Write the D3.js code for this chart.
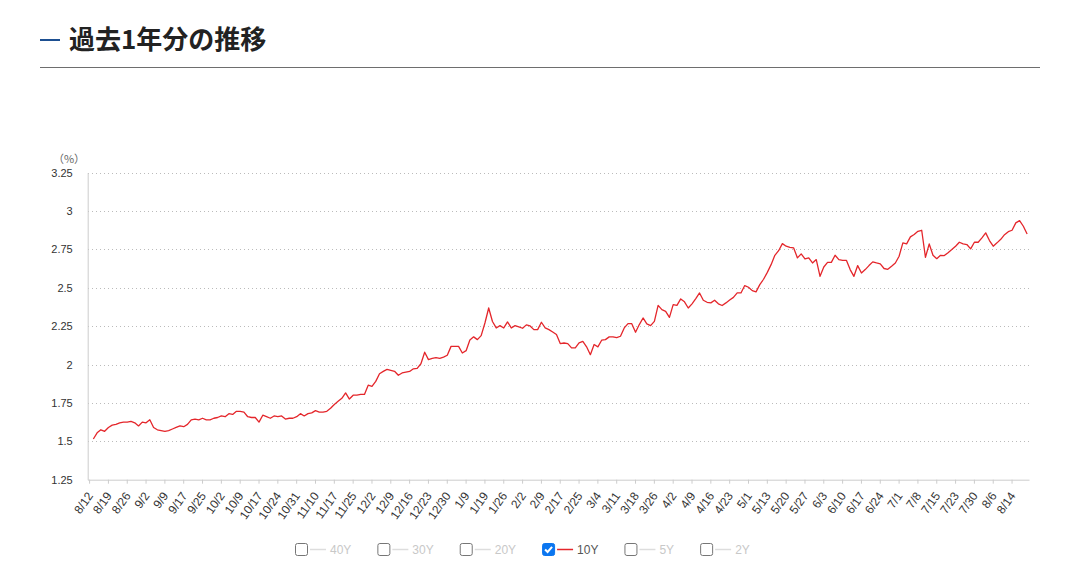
<!DOCTYPE html>
<html lang="ja">
<head>
<meta charset="utf-8">
<script src="https://cdn.jsdelivr.net/npm/d3@7"></script>
<style>
  body { margin: 0; background: #fff; }
  svg { display: block; }
</style>
</head>
<body>
<div id="chart"></div>
<script>
// Tick labels, one for every 5th trading day
const tickLabels = ['8/12', '8/19', '8/26', '9/2', '9/9', '9/17', '9/25', '10/2', '10/9', '10/17',
    '10/24', '10/31', '11/10', '11/17', '11/25', '12/2', '12/9', '12/16', '12/23', '12/30',
    '1/9', '1/19', '1/26', '2/2', '2/9', '2/17', '2/25', '3/4', '3/11', '3/18',
    '3/26', '4/2', '4/9', '4/16', '4/23', '5/1', '5/13', '5/20', '5/27', '6/3',
    '6/10', '6/17', '6/24', '7/1', '7/8', '7/15', '7/23', '7/30', '8/6', '8/14'];

const yTicks = [1.25, 1.5, 1.75, 2, 2.25, 2.5, 2.75, 3, 3.25];

// 10Y yield (%), one value per trading day (first day has no value)
const values10Y = [
    null, 1.515, 1.555, 1.575, 1.565, 1.590, 1.605, 1.610, 1.620, 1.625,
    1.625, 1.630, 1.620, 1.600, 1.625, 1.620, 1.640, 1.590, 1.575, 1.570,
    1.565, 1.570, 1.580, 1.590, 1.600, 1.595, 1.610, 1.640, 1.645, 1.640,
    1.650, 1.640, 1.640, 1.650, 1.655, 1.665, 1.660, 1.680, 1.675, 1.695,
    1.695, 1.690, 1.660, 1.655, 1.655, 1.625, 1.670, 1.660, 1.650, 1.665,
    1.660, 1.665, 1.645, 1.650, 1.650, 1.660, 1.680, 1.665, 1.680, 1.685,
    1.700, 1.690, 1.690, 1.695, 1.715, 1.740, 1.760, 1.780, 1.815, 1.775,
    1.800, 1.800, 1.805, 1.805, 1.865, 1.858, 1.890, 1.940, 1.955, 1.968,
    1.962, 1.956, 1.930, 1.945, 1.950, 1.955, 1.972, 1.975, 2.005, 2.080,
    2.032, 2.040, 2.045, 2.040, 2.048, 2.060, 2.118, 2.118, 2.118, 2.075,
    2.090, 2.160, 2.180, 2.162, 2.188, 2.270, 2.368, 2.280, 2.238, 2.253,
    2.238, 2.277, 2.238, 2.253, 2.245, 2.236, 2.258, 2.251, 2.227, 2.227,
    2.275, 2.238, 2.227, 2.212, 2.195, 2.136, 2.140, 2.136, 2.108, 2.108,
    2.141, 2.151, 2.115, 2.064, 2.130, 2.115, 2.158, 2.162, 2.180, 2.180,
    2.175, 2.184, 2.238, 2.266, 2.266, 2.210, 2.260, 2.303, 2.264, 2.253,
    2.281, 2.385, 2.357, 2.346, 2.307, 2.390, 2.385, 2.427, 2.408, 2.368,
    2.395, 2.429, 2.466, 2.418, 2.405, 2.401, 2.418, 2.395, 2.384, 2.401,
    2.420, 2.437, 2.466, 2.466, 2.514, 2.503, 2.481, 2.473, 2.520, 2.555,
    2.600, 2.650, 2.711, 2.741, 2.787, 2.770, 2.763, 2.759, 2.694, 2.720,
    2.687, 2.694, 2.661, 2.683, 2.574, 2.635, 2.665, 2.665, 2.711, 2.683,
    2.678, 2.678, 2.618, 2.574, 2.644, 2.596, 2.618, 2.644, 2.668, 2.661,
    2.655, 2.625, 2.620, 2.640, 2.661, 2.705, 2.792, 2.785, 2.831, 2.846,
    2.867, 2.874, 2.698, 2.785, 2.711, 2.689, 2.711, 2.709, 2.727, 2.748,
    2.770, 2.796, 2.785, 2.781, 2.753, 2.796, 2.796, 2.824, 2.857, 2.807,
    2.770, 2.792, 2.815, 2.845, 2.865, 2.874, 2.922, 2.937, 2.900, 2.850
];

const legendNames = ['40Y', '30Y', '20Y', '10Y', '5Y', '2Y'];
const legendActive = [false, false, false, true, false, false];

const width = 1077;
const height = 582;
const lineColor = '#e4262b';
const axisColor = '#cccccc';
const labelFont = '"Liberation Sans", Arial, sans-serif';

const svg = d3.select('#chart')
    .append('svg')
    .attr('width', width)
    .attr('height', height);

// Heading
svg.append('line')
    .attr('x1', 40).attr('x2', 60)
    .attr('y1', 40).attr('y2', 40)
    .style('stroke', '#1d4f91')
    .style('stroke-width', 2);

svg.append('text')
    .attr('x', 69)
    .attr('y', 49)
    .text('過去1年分の推移')
    .style('font-family', '"Noto Sans CJK JP", sans-serif')
    .style('font-weight', 'bold')
    .style('font-size', '26px')
    .style('fill', '#222');

svg.append('line')
    .attr('x1', 40).attr('x2', 1040)
    .attr('y1', 67.5).attr('y2', 67.5)
    .style('stroke', '#6e6e6e')
    .style('stroke-width', 1);

// Scales
const x = d3.scaleBand()
    .domain(d3.range(values10Y.length))
    .range([87.7, 1029])
    .padding(0);

const y = d3.scaleLinear()
    .domain([1.25, 3.25])
    .range([479.7, 172.5]);

const bw = x.bandwidth();

// Dotted grid lines
svg.append('g')
    .selectAll('line')
    .data(yTicks.filter(t => t > 1.25))
    .enter()
    .append('line')
    .attr('x1', 88).attr('x2', 1029)
    .attr('y1', d => Math.round(y(d)) + 0.5)
    .attr('y2', d => Math.round(y(d)) + 0.5)
    .style('stroke', '#bbbbbb')
    .style('stroke-width', 1)
    .style('stroke-dasharray', '1,3');

// Y axis
const yAxis = svg.append('g')
    .attr('transform', 'translate(87.7,0)')
    .call(d3.axisLeft(y).tickValues(yTicks).tickSize(0).tickPadding(15).tickFormat(d => String(d)));

yAxis.select('.domain').style('stroke', axisColor);
yAxis.selectAll('text')
    .style('font-family', labelFont)
    .style('font-size', '11px')
    .style('fill', '#333');

svg.append('text')
    .attr('x', 69)
    .attr('y', 163)
    .attr('text-anchor', 'middle')
    .text('（%）')
    .style('font-family', '"Noto Sans CJK JP", sans-serif')
    .style('font-size', '11px')
    .style('fill', '#666');

// X axis
const xAxis = svg.append('g')
    .attr('transform', 'translate(0,479.7)')
    .call(d3.axisBottom(x)
        .tickValues(d3.range(0, values10Y.length, 5))
        .tickSize(4)
        .tickSizeOuter(0)
        .tickFormat(i => tickLabels[i / 5]));

xAxis.select('.domain').style('stroke', axisColor);
xAxis.selectAll('.tick line').style('stroke', axisColor);
xAxis.selectAll('text')
    .attr('x', 0)
    .attr('y', 0)
    .attr('dy', 0)
    .attr('text-anchor', 'end')
    .attr('transform', 'translate(4,16) rotate(-55)')
    .style('font-family', labelFont)
    .style('font-size', '12px')
    .style('fill', '#333');

// 10Y line
const line = d3.line()
    .defined(d => d != null)
    .x((d, i) => x(i) + bw / 2)
    .y(d => y(d));

svg.append('path')
    .datum(values10Y)
    .attr('d', line)
    .style('fill', 'none')
    .style('stroke', lineColor)
    .style('stroke-width', 1.3)
    .style('stroke-linejoin', 'round');

// Legend with checkboxes
const legend = svg.append('g').attr('transform', 'translate(0,543)');
let cursor = 295;

legendNames.forEach((name, i) => {
    const on = legendActive[i];
    const item = legend.append('g').attr('transform', `translate(${cursor},0)`);

    item.append('rect')
        .attr('x', 0.5).attr('y', 0.5)
        .attr('width', 12).attr('height', 12)
        .attr('rx', 2)
        .style('fill', on ? '#0b76f0' : '#fff')
        .style('stroke', on ? '#0b76f0' : '#767676')
        .style('stroke-width', 1);

    if (on) {
        item.append('path')
            .attr('d', 'M3,6.5 L5.5,9 L10,3.8')
            .style('fill', 'none')
            .style('stroke', '#fff')
            .style('stroke-width', 2);
    }

    item.append('line')
        .attr('x1', 15).attr('x2', 31)
        .attr('y1', 6.5).attr('y2', 6.5)
        .style('stroke', on ? lineColor : '#dddddd')
        .style('stroke-width', 1.5);

    const label = item.append('text')
        .attr('x', 35)
        .attr('y', 11)
        .text(name)
        .style('font-family', labelFont)
        .style('font-size', '12px')
        .style('fill', on ? '#555' : '#c8c8c8');

    cursor += 35 + label.node().getComputedTextLength() + 26;
});
</script>
</body>
</html>
